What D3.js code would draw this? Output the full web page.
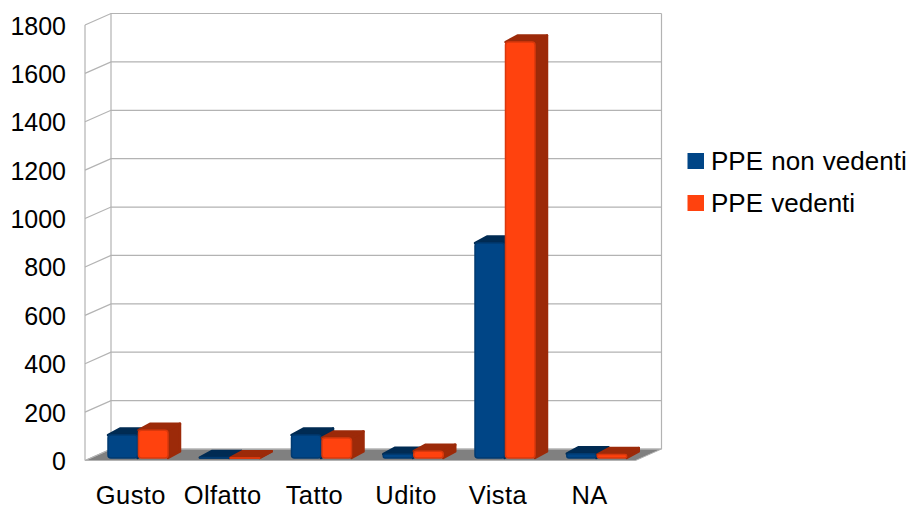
<!DOCTYPE html>
<html>
<head>
<meta charset="utf-8">
<script src="https://cdn.jsdelivr.net/npm/d3@7"></script>
<style>
  html, body { margin: 0; padding: 0; background: #fff; }
  svg { display: block; }
  text { font-family: "Liberation Sans", Arial, sans-serif; fill: #000; }
</style>
</head>
<body>
<svg id="chart" width="916" height="509"></svg>
<script>
// Chart values
const categories = ["Gusto", "Olfatto", "Tatto", "Udito", "Vista", "NA"];
const seriesNames = ["PPE non vedenti", "PPE vedenti"];
const nonVedenti = [95, 2, 95, 16, 888, 18];
const vedenti = [115, 1, 83, 28, 1719, 14];
const yTicks = [0, 200, 400, 600, 800, 1000, 1200, 1400, 1600, 1800];

const frontColors = ["#004586", "#ff420e"];
const sideColors = ["#002b53", "#9c2a09"];
const edgeColors = ["#003a70", "#d9380c"];
const topColors = ["#002b53", "#9c2a09"];

const svg = d3.select("#chart");

// Projection of the 3D box: the back wall is shifted up and to the right
const wallDx = 26, wallDy = -11.5;
const frontLeft = 85, frontRight = 635.5;

const yFront = d3.scaleLinear().domain([0, 1800]).range([460.5, 25]);
const yBack = v => yFront(v) + wallDy;
const yBar = d3.scaleLinear().domain([0, 1800]).range([458, 22.4]);

const xSlot = d3.scaleBand().domain(categories).range([frontLeft, frontRight]);
const xSeries = d3.scaleBand().domain(d3.range(2))
  .range([0, 61]);
const barLeft = 23;
const barDx = 12, barDy = -6.5;

const gridColor = "#b3b3b3";

// Floor
svg.append("path")
  .attr("d", d3.line()([
    [frontLeft, yFront(0)], [frontLeft + wallDx, yBack(0)],
    [frontRight + wallDx, yBack(0)], [frontRight, yFront(0)]
  ]) + "Z")
  .attr("fill", "#808080")
  .attr("stroke", gridColor)
  .attr("stroke-width", 1);

// Walls and gridlines
const grid = svg.append("g")
  .attr("fill", "none")
  .attr("stroke", gridColor)
  .attr("stroke-width", 1.2);

grid.selectAll("path.grid")
  .data(yTicks)
  .join("path")
  .attr("class", "grid")
  .attr("d", d => d3.line()([
    [frontLeft, yFront(d)], [frontLeft + wallDx, yBack(d)], [frontRight + wallDx, yBack(d)]
  ]));

grid.append("path").attr("d", d3.line()([[frontLeft, yFront(0)], [frontLeft, yFront(1800)]]));
grid.append("path").attr("d", d3.line()([[frontLeft + wallDx, yBack(0)], [frontLeft + wallDx, yBack(1800)]]));
grid.append("path").attr("d", d3.line()([[frontRight + wallDx, yBack(0)], [frontRight + wallDx, yBack(1800)]]));

// Bars: each category is drawn as a pair of rounded boxes
const bars = svg.append("g");
categories.forEach((cat, i) => {
  [nonVedenti[i], vedenti[i]].forEach((v, s) => {
    const x0 = xSlot(cat) + barLeft + xSeries(s);
    const x1 = x0 + xSeries.bandwidth() - 1;
    const yt = yBar(v), yb = yBar(0);
    const box = bars.append("g").attr("stroke-linejoin", "round");
    box.append("path")
      .attr("d", d3.line()([
        [x1, yb], [x1 + barDx, yb + barDy], [x1 + barDx, yt + barDy], [x1, yt]
      ]) + "Z")
      .attr("fill", sideColors[s]).attr("stroke", sideColors[s]).attr("stroke-width", 2.5);
    box.append("path")
      .attr("d", d3.line()([
        [x0, yt], [x0 + barDx, yt + barDy], [x1 + barDx, yt + barDy], [x1, yt]
      ]) + "Z")
      .attr("fill", topColors[s]).attr("stroke", topColors[s]).attr("stroke-width", 2.5);
    box.append("rect")
      .attr("x", x0).attr("y", yt)
      .attr("width", x1 - x0).attr("height", Math.max(yb - yt, 0.5))
      .attr("rx", Math.min(3, (yb - yt) / 2))
      .attr("fill", frontColors[s])
      .attr("stroke", edgeColors[s]).attr("stroke-width", 1.5);
  });
});

// Value axis labels
svg.append("g").selectAll("text")
  .data(yTicks)
  .join("text")
  .attr("x", 66)
  .attr("y", d => yFront(d) + 9.5)
  .attr("text-anchor", "end")
  .attr("font-size", 25)
  .text(d => d);

// Category labels
svg.append("g").selectAll("text")
  .data(categories)
  .join("text")
  .attr("x", d => xSlot(d) + xSlot.bandwidth() / 2)
  .attr("y", 503.5)
  .attr("text-anchor", "middle")
  .attr("font-size", 25.5)
  .attr("letter-spacing", 0.4)
  .text(d => d);

// Legend
const legend = svg.append("g").selectAll("g")
  .data(seriesNames)
  .join("g")
  .attr("transform", (d, i) => `translate(687.5,${153 + i * 42})`);
legend.append("rect")
  .attr("width", 16.5).attr("height", 16)
  .attr("fill", (d, i) => frontColors[i]);
legend.append("text")
  .attr("x", 23.5).attr("y", 17)
  .attr("font-size", 26)
  .attr("word-spacing", 1)
  .text(d => d);
</script>
</body>
</html>
